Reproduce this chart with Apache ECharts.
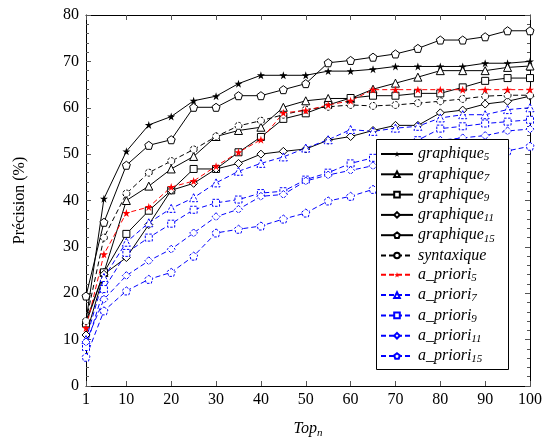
<!DOCTYPE html>
<html>
<head>
<meta charset="utf-8">
<script src="https://cdn.jsdelivr.net/npm/echarts@6/dist/echarts.min.js"></script>
<style>
  html, body { margin: 0; padding: 0; background: #fff; }
  #main { width: 545px; height: 444px; }
</style>
</head>
<body>
<div id="main"></div>
<script>
const topN = [1, 5, 10, 15, 20, 25, 30, 35, 40, 45, 50, 55, 60, 65, 70, 75, 80, 85, 90, 95, 100];
const xTicks = [1, 10, 20, 30, 40, 50, 60, 70, 80, 90, 100];

const graphique5 = [14, 40.4, 50.6, 56.3, 58.1, 61.5, 62.5, 65.2, 67, 67, 67, 67.9, 67.9, 68.3, 68.9, 68.9, 68.9, 68.9, 69.6, 69.6, 70];
const graphique7 = [14, 24.5, 40, 43.1, 46.8, 49.5, 53.8, 55.1, 55.8, 60.1, 61.5, 62, 62, 64, 65.3, 66.6, 68, 68, 68, 68.7, 69];
const graphique9 = [13.5, 24.5, 32.8, 37.8, 42.2, 46.8, 46.8, 50.4, 53.7, 57.6, 58.8, 60.6, 62.1, 62.6, 62.6, 63.1, 63.1, 64.4, 65.8, 66.4, 66.4];
const graphique11 = [11, 24.1, 27.7, 34.8, 42.2, 43.7, 46.8, 48, 50, 50.6, 51.1, 53, 53.8, 55.1, 56.2, 56.2, 58.9, 59.5, 60.8, 61.4, 62.5];
const graphique15 = [19.4, 35.3, 47.6, 51.9, 53.1, 60.1, 60.1, 62.6, 62.6, 63.9, 65.2, 69.7, 70.2, 70.9, 71.6, 72.8, 74.6, 74.6, 75.3, 76.6, 76.6];
const syntaxique = [14, 32, 41.5, 46, 48.5, 51, 53.8, 56.1, 57.2, 58.5, 59.6, 60.2, 60.6, 60.4, 60.6, 61, 61.4, 61.9, 62.5, 62.7, 62.7];
const apriori5 = [12.5, 28.4, 37.3, 38.6, 42.9, 44.2, 47.4, 50.4, 53.1, 58.9, 59.4, 60.6, 61.5, 63.9, 63.9, 63.9, 63.9, 63.9, 63.9, 63.9, 63.9];
const apriori7 = [10, 23.4, 31, 35.2, 38.3, 40.6, 43.8, 46.3, 48, 49.4, 51.3, 53.1, 55.3, 54.9, 55.6, 56, 57.8, 58.5, 58.5, 59.6, 60];
const apriori9 = [8.4, 20.9, 28.7, 32, 35, 38, 39.5, 40.2, 41.6, 42, 44.5, 46, 48, 49.2, 51, 53, 55.5, 56, 56.6, 57, 57.4];
const apriori11 = [9.5, 18.7, 23.8, 27, 29.5, 33, 36.5, 38.1, 40.9, 41.3, 44.2, 45.5, 46.5, 47.5, 49, 50.5, 53, 53.5, 54, 55, 55.4];
const apriori15 = [6.2, 16.2, 20.5, 23, 24.5, 28, 33, 33.8, 34.5, 36, 37.3, 39.9, 40.9, 42.4, 44, 45.5, 47.5, 48.5, 50, 50.7, 51.7];

const STAR = 'path://M0,-1 L0.224,-0.309 L0.951,-0.309 L0.363,0.118 L0.588,0.809 L0,0.382 L-0.588,0.809 L-0.363,0.118 L-0.951,-0.309 L-0.224,-0.309 Z';
const PENT = 'path://M0,-1 L0.951,-0.309 L0.588,0.809 L-0.588,0.809 L-0.951,-0.309 Z';
const TRI = 'path://M0,-1 L0.866,0.5 L-0.866,0.5 Z';
const SQ = 'path://M-1,-1 L1,-1 L1,1 L-1,1 Z';
const DIA = 'path://M0,-1 L0.7,0 L0,1 L-0.7,0 Z';
const CIRC = 'circle';

const serif = 'Liberation Serif';

function mk(name, vals, color, dashed, symbol, size, filled) {
    return {
        name: name,
        type: 'line',
        data: topN.map((x, i) => [x, vals[i]]),
        symbol: symbol,
        symbolSize: size,
        showAllSymbol: true,
        lineStyle: { color: color, width: 1, type: dashed ? [5, 3] : 'solid' },
        itemStyle: {
            color: filled ? color : '#fff',
            borderColor: color,
            borderWidth: filled ? 0 : 1,
            borderType: dashed ? [2.5, 1.5] : 'solid'
        },
        emphasis: { disabled: true },
        animation: false
    };
}

const series = [
    mk('graphique5', graphique5, '#000', false, STAR, 8, true),
    mk('graphique7', graphique7, '#000', false, TRI, 8, false),
    mk('graphique9', graphique9, '#000', false, SQ, 7, false),
    mk('graphique11', graphique11, '#000', false, DIA, 8, false),
    mk('graphique15', graphique15, '#000', false, PENT, 8, false),
    mk('syntaxique', syntaxique, '#000', true, CIRC, 7, false),
    mk('a_priori5', apriori5, '#ff0000', true, STAR, 8, true),
    mk('a_priori7', apriori7, '#0000ff', true, TRI, 8, false),
    mk('a_priori9', apriori9, '#0000ff', true, SQ, 7, false),
    mk('a_priori11', apriori11, '#0000ff', true, DIA, 8, false),
    mk('a_priori15', apriori15, '#0000ff', true, PENT, 8, false)
];

const tickStyle = { color: '#555', width: 1 };

let myChart = echarts.init(document.getElementById('main'));

let option = {
    animation: false,
    textStyle: { fontFamily: serif },
    grid: { left: 86, right: 14, top: 15, bottom: 57 },
    // legend frame: line series sit at z 3, legend at z 4
    graphic: [{
        type: 'rect',
        left: 376,
        top: 139,
        z: 3.5,
        shape: { width: 132, height: 230 },
        style: { fill: '#fff', stroke: '#000', lineWidth: 1 }
    }],
    xAxis: [
        {
            type: 'value',
            min: 1,
            max: 100,
            name: '{i|Top}{s|n}',
            nameLocation: 'middle',
            nameGap: 33,
            nameTextStyle: {
                rich: {
                    i: { fontFamily: serif, fontStyle: 'italic', fontSize: 16, lineHeight: 20, color: '#000' },
                    s: { fontFamily: serif, fontStyle: 'italic', fontSize: 11, lineHeight: 9, verticalAlign: 'bottom', color: '#000' }
                }
            },
            axisLine: { show: true, onZero: false, lineStyle: { color: '#000', width: 1 } },
            axisTick: { show: true, inside: true, length: 5, lineStyle: tickStyle, customValues: xTicks },
            axisLabel: { fontSize: 16, color: '#000', margin: 6, customValues: xTicks, fontFamily: serif },
            splitLine: { show: false }
        },
        {
            type: 'value',
            position: 'top',
            min: 1,
            max: 100,
            axisLine: { show: true, onZero: false, lineStyle: { color: '#000', width: 1 } },
            axisTick: { show: true, inside: true, length: 5, lineStyle: tickStyle, customValues: xTicks },
            axisLabel: { show: false },
            splitLine: { show: false }
        }
    ],
    yAxis: [
        {
            type: 'value',
            min: 0,
            max: 80,
            interval: 10,
            name: 'Précision (%)',
            nameLocation: 'middle',
            nameGap: 58,
            nameTextStyle: { fontSize: 16, color: '#000', fontFamily: serif },
            axisLine: { show: true, onZero: false, lineStyle: { color: '#000', width: 1 } },
            axisTick: { show: true, inside: true, length: 5, lineStyle: tickStyle },
            minorTick: { show: true, splitNumber: 5, length: 3, lineStyle: tickStyle },
            axisLabel: { fontSize: 16, color: '#000', margin: 7, fontFamily: serif },
            splitLine: { show: false }
        },
        {
            type: 'value',
            position: 'right',
            min: 0,
            max: 80,
            interval: 10,
            axisLine: { show: true, onZero: false, lineStyle: { color: '#000', width: 1 } },
            axisTick: { show: true, inside: true, length: 5, lineStyle: tickStyle },
            minorTick: { show: true, splitNumber: 5, length: 3, lineStyle: tickStyle },
            axisLabel: { show: false },
            splitLine: { show: false }
        }
    ],
    legend: {
        orient: 'vertical',
        left: 376,
        top: 139,
        z: 5,
        padding: [7, 4, 5, 4],
        itemGap: 3.3,
        itemWidth: 32,
        itemHeight: 7,
        borderWidth: 0,
        data: series.map(s => s.name),
        formatter: function (name) {
            const m = name.match(/^(.*?)(\d*)$/);
            return '{i|' + m[1] + '}' + (m[2] ? '{s|' + m[2] + '}' : '');
        },
        textStyle: {
            rich: {
                i: { fontFamily: serif, fontStyle: 'italic', fontSize: 16, lineHeight: 18, color: '#000' },
                s: { fontFamily: serif, fontStyle: 'italic', fontSize: 11, lineHeight: 8, verticalAlign: 'bottom', color: '#000' }
            }
        }
    },
    series: series
};

myChart.setOption(option);
</script>
</body>
</html>
